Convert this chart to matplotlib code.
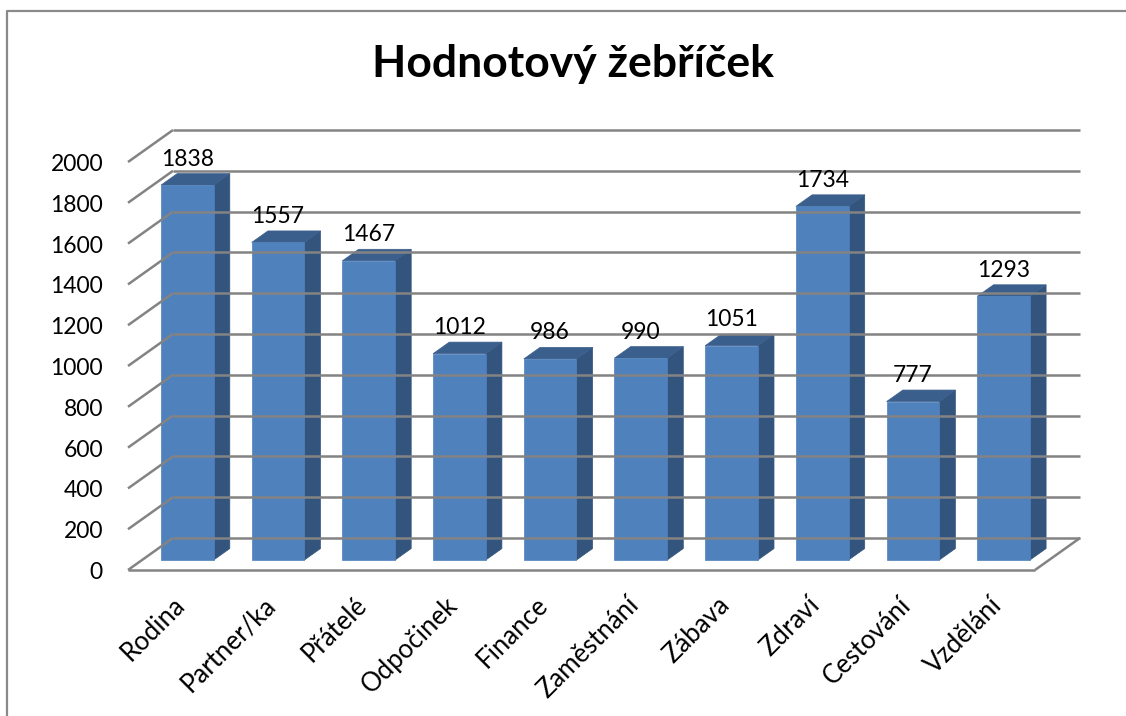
import numpy as np
import matplotlib
matplotlib.use('Agg')
import matplotlib.pyplot as plt
from matplotlib.patches import Polygon
from matplotlib.lines import Line2D
from matplotlib.transforms import IdentityTransform

categories = ['Rodina', 'Partner/ka', 'Přátelé', 'Odpočinek', 'Finance',
              'Zaměstnání', 'Zábava', 'Zdraví', 'Cestování', 'Vzdělání']
values = [1838, 1557, 1467, 1012, 986, 990, 1051, 1734, 777, 1293]
yticks = [0, 200, 400, 600, 800, 1000, 1200, 1400, 1600, 1800, 2000]
title = 'Hodnotový žebříček'

FONT = ['Lato', 'DejaVu Sans']
plt.rcParams['font.family'] = FONT

W, H = 1126, 716
fig = plt.figure(figsize=(W / 100, H / 100), dpi=100)
fig.patch.set_facecolor('white')
ax = fig.add_axes([128 / W, (H - 570) / H, 907 / W, 408 / H])
ax.set_xlim(-0.5, len(categories) - 0.5)
ax.set_ylim(yticks[0], yticks[-1])
ax.axis('off')

DX, DY = 45, 32          # depth of the 3D floor in pixels
D0, D1 = 0.31, 0.67      # bar front / back depth fractions
HW = 0.29                # half bar width (data units)
IDT = IdentityTransform()

GRID = '#838383'
FRONT = '#4F81BD'
SIDE = '#33547D'
TOP = '#3B5F8D'


def P(x, v, d):
    px, py = ax.transData.transform((x, v))
    return (px + DX * d, py + DY * d)


def line(p, q, **kw):
    fig.add_artist(Line2D([p[0], q[0]], [p[1], q[1]], transform=IDT,
                          color=GRID, lw=1.8, solid_capstyle='butt', **kw))


x0, x1 = ax.get_xlim()
# back wall gridlines + left wall diagonals
for v in yticks:
    line(P(x0, v, 1), P(x1, v, 1))
    line(P(x0, v, 0), P(x0, v, 1))
# floor
line(P(x0, 0, 0), P(x1, 0, 0))
line(P(x1, 0, 0), P(x1, 0, 1))

# bars
for i, v in enumerate(values):
    front = [P(i - HW, 0, D0), P(i + HW, 0, D0), P(i + HW, v, D0), P(i - HW, v, D0)]
    side = [P(i + HW, 0, D0), P(i + HW, 0, D1), P(i + HW, v, D1), P(i + HW, v, D0)]
    top = [P(i - HW, v, D0), P(i + HW, v, D0), P(i + HW, v, D1), P(i - HW, v, D1)]
    for pts, c in ((side, SIDE), (top, TOP), (front, FRONT)):
        fig.add_artist(Polygon(pts, closed=True, transform=IDT, facecolor=c,
                               edgecolor=c, lw=0.5))
    fx = P(i, v, D0)[0]
    ty = P(i, v, D1)[1]
    fig.text(fx / W, (ty + 8) / H, str(v), ha='center', va='baseline',
             fontsize=16.5, color='black')

# y tick labels
for v in yticks:
    px, py = P(x0, 0, 0)[0], P(x0, v, 0)[1]
    fig.text((px - 25) / W, (py - 9) / H, str(v), ha='right', va='baseline',
             fontsize=16.5, color='black')

# category labels
for i, c in enumerate(categories):
    px = P(i, 0, D0)[0] - 6
    py = P(i, 0, 0)[1] - 31
    fig.text(px / W, py / H, c, ha='right', va='center', rotation=45,
             rotation_mode='anchor', fontsize=18.5, color='black')

# title
fig.text(573.5 / W, (H - 77) / H, title, ha='center', va='baseline',
         fontsize=32, fontweight='bold', color='black')

# chart border (left and top edges visible)
fig.add_artist(Line2D([7, 7, W + 5], [-5, H - 11, H - 11], transform=IDT,
                      color='#8a8a8a', lw=1.6))

fig.savefig('out.png', dpi=100, facecolor='white')
